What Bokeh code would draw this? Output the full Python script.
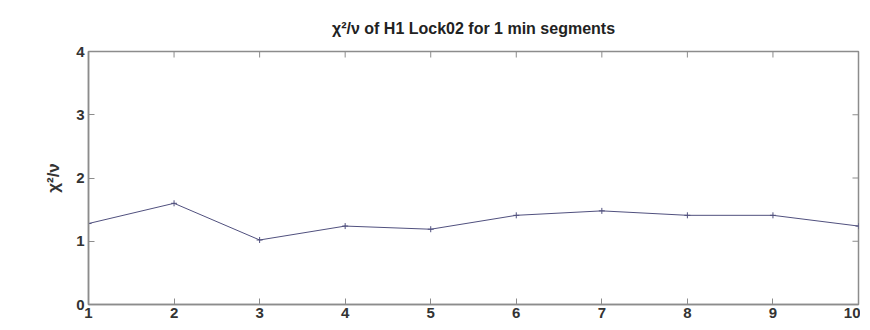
from bokeh.plotting import figure
from bokeh.models import LinearAxis, Range1d, FixedTicker
from bokeh.embed import file_html
from bokeh.resources import INLINE

segments = [1, 2, 3, 4, 5, 6, 7, 8, 9, 10]
chi2_nu = [1.28, 1.60, 1.02, 1.24, 1.19, 1.41, 1.48, 1.41, 1.41, 1.24]
x_ticks = [1, 2, 3, 4, 5, 6, 7, 8, 9, 10]
y_ticks = [0, 1, 2, 3, 4]
title_text = "\u03c7\u00b2/\u03bd of H1 Lock02 for 1 min segments"

FONT = "Liberation Sans"
AXIS_COLOR = "#8c8c8c"
LINE_COLOR = "#50507e"

X0, X1, Y0, Y1 = 1, 10, 0, 4

p = figure(width=860, height=320, output_backend="svg", toolbar_location=None,
           x_range=Range1d(X0, X1), y_range=Range1d(Y0, Y1),
           x_axis_location=None, y_axis_location=None,
           min_border_left=88, min_border_right=2, min_border_top=51, min_border_bottom=16)
p.title.text = title_text
p.title.align = "center"
p.title.text_font = FONT
p.title.text_font_size = "16px"
p.title.text_font_style = "bold"
p.title.text_color = "#222222"
p.title.standoff = 30

p.grid.visible = False
p.outline_line_color = AXIS_COLOR
p.outline_line_width = 1.5
p.background_fill_color = "white"
p.border_fill_color = "white"

def make_axis(loc, ticks):
    ax = LinearAxis(ticker=FixedTicker(ticks=ticks))
    ax.axis_line_color = AXIS_COLOR
    ax.axis_line_width = 1.5
    ax.major_tick_line_color = AXIS_COLOR
    ax.major_tick_in = 6
    ax.major_tick_out = 0
    ax.minor_tick_line_color = None
    ax.major_label_text_font = FONT
    ax.major_label_text_font_size = "15px"
    ax.major_label_text_font_style = "bold"
    ax.major_label_text_color = "#333333"
    p.add_layout(ax, loc)
    return ax

bx = make_axis("below", x_ticks)
bx.major_label_standoff = 3
ly = make_axis("left", y_ticks)
ly.major_label_standoff = 4
ly.axis_label = "\u03c7\u00b2/\u03bd"
ly.axis_label_text_font = FONT
ly.axis_label_text_font_size = "17px"
ly.axis_label_text_font_style = "bold"
ly.axis_label_text_color = "#333333"
ly.axis_label_standoff = 10

# mirrored inward ticks on top and right edges (MATLAB box style)
tick_dy = (Y1 - Y0) * 6 / 253
tick_dx = (X1 - X0) * 6 / 768
p.segment(x0=x_ticks, y0=[Y1] * len(x_ticks), x1=x_ticks, y1=[Y1 - tick_dy] * len(x_ticks),
          line_color=AXIS_COLOR, line_width=1)
p.segment(x0=[X1] * len(y_ticks), y0=y_ticks, x1=[X1 - tick_dx] * len(y_ticks), y1=y_ticks,
          line_color=AXIS_COLOR, line_width=1)

p.line(segments, chi2_nu, line_color=LINE_COLOR, line_width=1)
p.scatter(segments, chi2_nu, marker="cross", size=6, line_color=LINE_COLOR, line_width=1)

open("out.html", "w").write(file_html(p, INLINE))
